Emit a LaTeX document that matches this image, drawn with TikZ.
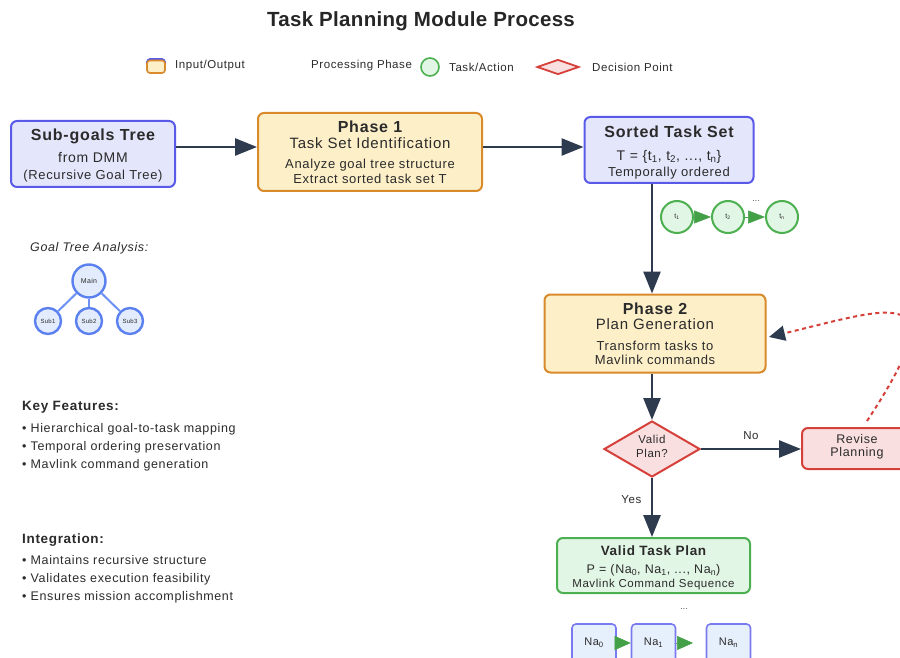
\documentclass[tikz,border=0pt]{standalone}
\usepackage{fontspec}
\setmainfont[LetterSpace=5]{Liberation Sans}
\usetikzlibrary{arrows.meta,shapes.geometric}

\definecolor{slate}{HTML}{2E3A4E}
\definecolor{ink}{HTML}{2B2B2B}
\definecolor{ioborder}{HTML}{5A5AE8}
\definecolor{iofill}{HTML}{E4E6FB}
\definecolor{phborder}{HTML}{D98A2B}
\definecolor{phfill}{HTML}{FDF0C9}
\definecolor{tkborder}{HTML}{4CAF50}
\definecolor{tkfill}{HTML}{E2F6E5}
\definecolor{tkarrow}{HTML}{43A047}
\definecolor{dcborder}{HTML}{D6403A}
\definecolor{dcfill}{HTML}{F9DFDF}
\definecolor{trborder}{HTML}{5B80F0}
\definecolor{trline}{HTML}{6E92F2}
\definecolor{trfill}{HTML}{E3ECFC}
\definecolor{naborder}{HTML}{7A7AF0}
\definecolor{nafill}{HTML}{E6F0FC}

\newcommand{\fs}[2]{\fontsize{#1}{#2}\selectfont}
% invisible struts that push a text block down (top) or up (bottom)
\newcommand{\topstrut}[1]{\rule{0pt}{#1}}
\newcommand{\botstrut}[1]{\rule[-#1]{0pt}{0pt}}

\tikzset{
  box/.style={rounded corners=6pt, line width=2pt, inner sep=0pt, align=center, text=ink},
  iobox/.style={box, draw=ioborder, fill=iofill},
  phasebox/.style={box, draw=phborder, fill=phfill},
  planbox/.style={box, draw=tkborder, fill=tkfill},
  revbox/.style={box, draw=dcborder, fill=dcfill},
  nabox/.style={box, rounded corners=4pt, line width=1.6pt, draw=naborder, fill=nafill,
    minimum width=44pt, minimum height=38pt, font=\fs{11}{13}},
  taskdot/.style={circle, line width=2pt, draw=tkborder, fill=tkfill, inner sep=0pt,
    minimum size=32pt, font=\fs{7}{8}, text=ink},
  treedot/.style={circle, line width=2.4pt, draw=trborder, fill=trfill, inner sep=0pt, text=ink},
  flow/.style={line width=2.6pt, draw=slate, -{Triangle[length=22pt,width=17pt,color=slate]}},
  chain/.style={line width=0.5pt, draw=tkarrow, -{Triangle[length=17pt,width=13pt,color=tkarrow]}},
  legendtext/.style={anchor=west, font=\fs{11.5}{13}, text=ink, inner sep=0pt},
  notes/.style={anchor=north west, align=left, inner sep=0pt, font=\fs{12.5}{18}, text=ink},
}

\begin{document}
\begin{tikzpicture}[x=1pt,y=-1pt]
\useasboundingbox (0,0) rectangle (900,658);
\clip (0,0) rectangle (900,658);
\fill[white] (0,0) rectangle (900,658);

% title
\node[anchor=base, inner sep=0pt, font=\bfseries\fs{20.5}{24}\addfontfeatures{LetterSpace=1.5}, text=black!85]
  (title) at (421,26.7) {Task Planning Module Process};

% legend
\draw[ioborder, line width=1.6pt, fill=iofill, rounded corners=3pt] (147,59) rectangle (165,72);
\draw[phborder, line width=1.6pt, fill=phfill, rounded corners=3pt] (147,60.5) rectangle (165,73);
\node[legendtext] (lgio) at (175,66) {Input/Output};
\node[legendtext] (lgph) at (311,66) {Processing Phase};
\node[circle, draw=tkborder, fill=tkfill, line width=1.6pt, minimum size=18pt, inner sep=0pt] (lgtk) at (430,67) {};
\node[legendtext] (lgtkt) at (449,67) {Task/Action};
\node[diamond, draw=dcborder, fill=dcfill, line width=1.8pt, minimum width=42pt, minimum height=15pt, inner sep=0pt] (lgdc) at (558,67) {};
\node[legendtext] (lgdct) at (592,67) {Decision Point};

% main flow boxes
\node[iobox, minimum width=164pt, minimum height=66pt, font=\fs{13}{17}] (goals) at (93,154)
  {{\bfseries\fs{16}{17}\topstrut{15.5pt}Sub-goals Tree}\\[5pt]{\fs{14}{17}from DMM}\\(Recursive Goal Tree)};

\node[phasebox, minimum width=224pt, minimum height=78pt, font=\fs{13}{15}] (ph1) at (370,152)
  {{\bfseries\fs{16}{15}Phase 1}\\[1pt]{\fs{15}{15}Task Set Identification}\\[5pt]
   Analyze goal tree structure\\Extract sorted task set T};

\node[iobox, minimum width=169pt, minimum height=66pt, font=\fs{13}{16}] (sorted) at (669,150)
  {{\bfseries\fs{16}{16}\topstrut{16.5pt}Sorted Task Set}\\[7pt]{\fs{14}{16}T = \{t\textsubscript{1}, t\textsubscript{2}, ..., t\textsubscript{n}\}}\\Temporally ordered};

\node[phasebox, minimum width=221pt, minimum height=78pt, font=\fs{13}{14}] (ph2) at (655,333.5)
  {{\bfseries\fs{16}{14}Phase 2}\\[1pt]{\fs{15}{14}Plan Generation}\\[7pt]
   Transform tasks to\\Mavlink commands};

\node[diamond, draw=dcborder, fill=dcfill, line width=2pt, minimum width=96pt, minimum height=56pt,
  aspect=1.7, inner sep=0pt, align=center, font=\fs{11.5}{15}, text=ink] (valid) at (652,449)
  {\raisebox{5.5pt}{\shortstack{Valid\\[3pt]Plan?}}};

\node[revbox, minimum width=110pt, minimum height=41pt, font=\fs{12.5}{13}] (revise) at (857,448.5)
  {Revise\\Planning\botstrut{6.6pt}};

\node[planbox, minimum width=193pt, minimum height=55pt, font=\fs{12.5}{14}] (plan) at (653.5,565.5)
  {{\bfseries\fs{13.5}{14}\topstrut{14pt}Valid Task Plan}\\[4pt]P = (Na\textsubscript{0}, Na\textsubscript{1}, ..., Na\textsubscript{n})\\{\fs{11.5}{14}Mavlink Command Sequence}};

% main connectors
\draw[flow] (goals.east |- 0,147) coordinate (g1) -- (ph1.west |- g1);
\draw[flow] (ph1.east |- 0,147) coordinate (p1) -- (sorted.west |- p1);
\draw[flow] (sorted.south -| valid.north) -- (ph2.north -| valid.north);
\draw[flow] (ph2.south -| valid.north) -- (valid.north);
\draw[flow] (valid.east) -- node[above=5pt, font=\fs{11.5}{13}, text=ink] (nolbl) {No} (revise.west |- valid.east);
\draw[flow] (valid.south) -- node[left=6pt, pos=0.36, font=\fs{11.5}{13}, text=ink] (yeslbl) {Yes} (plan.north -| valid.south);

% replanning loop
\coordinate (loopstart) at (867,421);
\coordinate (loopend) at (769,337);
\draw[dcborder, line width=2pt, dash pattern=on 4pt off 3.5pt,
  -{Triangle[length=16pt,width=15pt,color=slate]}]
  (loopstart) .. controls (960,280) and (890,308) .. (loopend);

% ordered task set
\node[taskdot] (t1) at (677,217) {t\textsubscript{1}};
\node[taskdot] (t2) at (728,217) {t\textsubscript{2}};
\node[taskdot] (tn) at (782,217) {t\textsubscript{n}};
\draw[chain] (t1) -- (t2);
\draw[chain] (t2) -- (tn);
\node[font=\fs{8}{9}, text=ink] (tdots) at (756,201) {...};

% command sequence
\node[nabox] (na0) at (594,643) {Na\textsubscript{0}};
\node[nabox] (na1) at (653.5,643) {Na\textsubscript{1}};
\node[nabox] (nan) at (728.5,643) {Na\textsubscript{n}};
\coordinate (nastop) at (693,643);
\draw[chain, -{Triangle[length=16pt,width=14pt,color=tkarrow]}] (na0) -- (na1);
\draw[chain, -{Triangle[length=16pt,width=14pt,color=tkarrow]}] (na1) -- (nastop);
\node[font=\fs{8}{9}, text=ink] (nadots) at (684,609) {...};

% goal tree sketch
\node[anchor=west, font=\itshape\fs{12.5}{13}, text=ink, inner sep=0pt] (gta) at (30,248) {Goal Tree Analysis:};
\node[treedot, minimum size=33pt, font=\fs{7}{8}] (main) at (89,281) {Main};
\node[treedot, minimum size=26pt, font=\fs{6}{7}] (s1) at (48,321) {Sub1};
\node[treedot, minimum size=26pt, font=\fs{6}{7}] (s2) at (89,321) {Sub2};
\node[treedot, minimum size=26pt, font=\fs{6}{7}] (s3) at (130,321) {Sub3};
\foreach \s in {s1,s2,s3} \draw[trline, line width=2pt] (main) -- (\s);

% notes
\node[notes] (keyf) at (22,401)
  {{\bfseries\fs{13.5}{16}Key Features:}\\[4.5pt]
   • Hierarchical goal-to-task mapping\\
   • Temporal ordering preservation\\
   • Mavlink command generation};
\node[notes] (integ) at (22,533.5)
  {{\bfseries\fs{13.5}{16}Integration:}\\[3.5pt]
   • Maintains recursive structure\\
   • Validates execution feasibility\\
   • Ensures mission accomplishment};
\end{tikzpicture}
\end{document}
